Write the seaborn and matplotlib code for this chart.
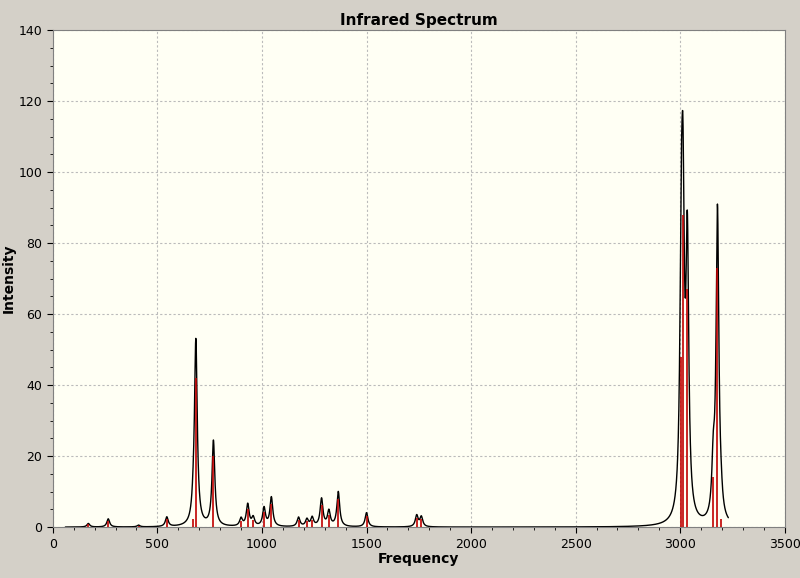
import numpy as np
import pandas as pd
import matplotlib
matplotlib.use("Agg")
import matplotlib.pyplot as plt
import seaborn as sns

freqs = [170, 265, 410, 545, 672, 684, 768, 900, 932, 958, 1010, 1045, 1175, 1215, 1240,
         1285, 1320, 1365, 1500, 1740, 1762, 3005, 3013, 3034, 3158, 3178, 3195]
peaks = [1.0, 2.3, 0.5, 2.7, 3.0, 52, 24, 2.2, 6.2, 2.4, 5.2, 8.2, 2.6, 2.0, 2.5,
         7.8, 4.3, 9.8, 4.0, 3.2, 2.8, 60, 75, 75, 14, 88, 3.0]
sticks = [0.8, 1.8, 0.4, 2.2, 2.4, 42, 20, 1.8, 5.0, 2.0, 4.2, 6.6, 2.1, 1.6, 2.0,
          6.2, 3.4, 7.8, 3.2, 2.6, 2.2, 48, 88, 67, 14, 73, 2.4]

hw = 8.0
x = np.linspace(60, 3230, 8000)
y = np.zeros_like(x)
for f, p in zip(freqs, peaks):
    y += p / (1 + ((x - f) / hw) ** 2)
df = pd.DataFrame({"Frequency": x, "Intensity": y})

sns.set_style("white")
fig = plt.figure(figsize=(8, 5.78), dpi=100, facecolor="#D4D0C8")
ax = fig.add_axes([0.066, 0.088, 0.915, 0.86])
ax.set_facecolor("#FFFFF4")
sns.lineplot(data=df, x="Frequency", y="Intensity", ax=ax, color="black", lw=1.0)
ax.vlines(freqs, 0, sticks, color="#C00000", lw=1.2, zorder=3)
ax.set_xlim(0, 3500)
ax.set_ylim(0, 140)
ax.set_xticks(range(0, 3501, 500))
ax.set_yticks(range(0, 141, 20))
ax.set_xticks(range(0, 3501, 100), minor=True)
ax.set_yticks(range(0, 141, 5), minor=True)
ax.grid(True, which="major", color="#BBBBBB", ls=(0, (2, 2)), lw=0.8)
ax.tick_params(which="both", direction="out", length=4, labelsize=9, bottom=True, left=True, colors="black")
ax.tick_params(which="minor", length=2)
ax.set_title("Infrared Spectrum", fontweight="bold", fontsize=11, pad=4, color="black")
ax.set_xlabel("Frequency", fontweight="bold", fontsize=10, labelpad=1, color="black")
ax.set_ylabel("Intensity", fontweight="bold", fontsize=10, labelpad=2, color="black")
for s in ax.spines.values():
    s.set_color("#808080")
fig.savefig("out.png", dpi=100, facecolor=fig.get_facecolor())
